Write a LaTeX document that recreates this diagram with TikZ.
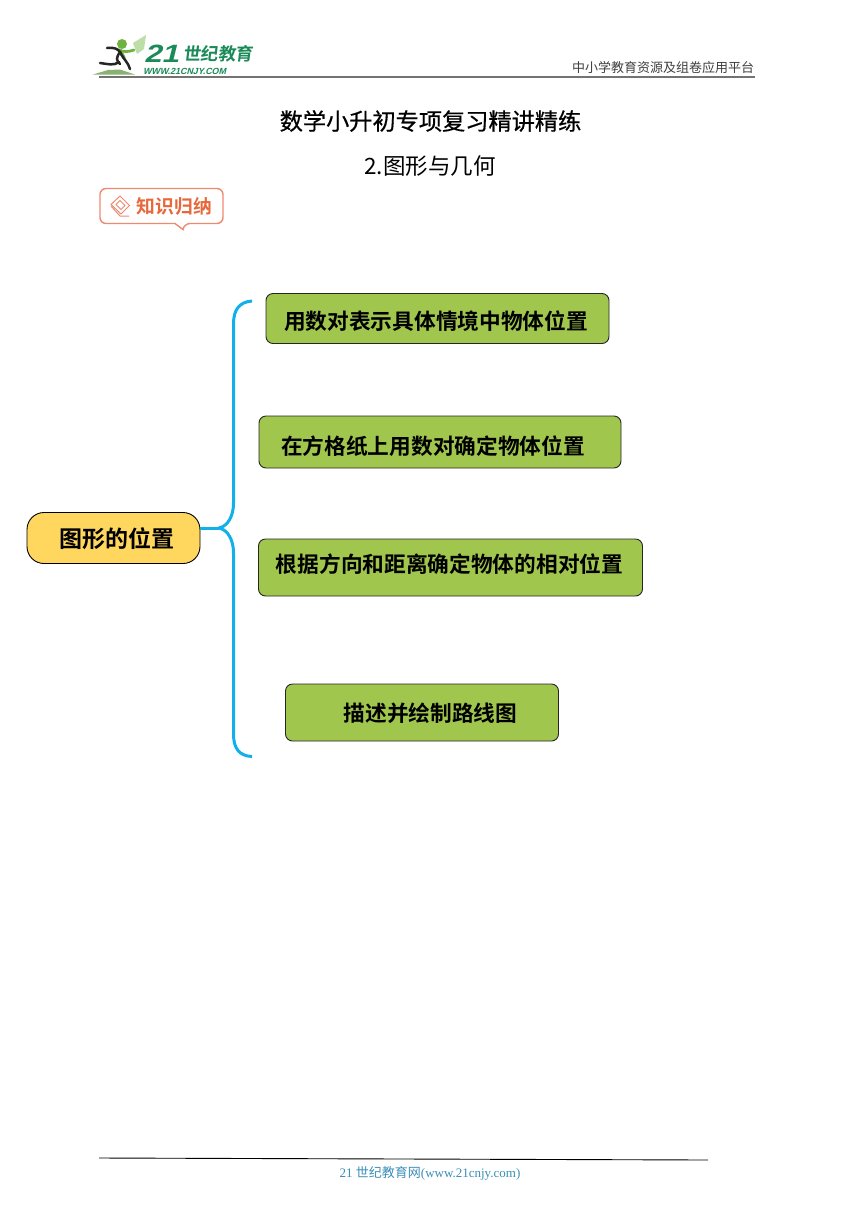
\documentclass[tikz,border=0pt]{standalone}
\usepackage{fontspec}
\setmainfont{Liberation Serif}
\newfontfamily\cjk{Noto Sans CJK SC}
\newfontfamily\cjkt[FakeBold=0.6]{Noto Sans CJK SC}
\newfontfamily\cjkb{Noto Sans CJK SC Bold}
\newfontfamily\cjkslant[FakeSlant=0.12]{Noto Sans CJK SC Bold}
\newfontfamily\sansslant[FakeSlant=0.25]{Liberation Sans Bold}
\newfontfamily\sansslantwide[FakeSlant=0.25,FakeStretch=1.25]{Liberation Sans Bold}
\definecolor{boxgreen}{HTML}{A1C64E}
\definecolor{rootyellow}{HTML}{FFD75F}
\definecolor{brace}{HTML}{12B0EA}
\definecolor{logogreen}{HTML}{1A8A58}
\definecolor{leaf}{HTML}{6DB33F}
\definecolor{badge}{HTML}{EE8A72}
\definecolor{badgetext}{HTML}{E8683C}
\definecolor{footblue}{HTML}{3A8FB7}
\tikzset{
  x=1pt,y=-1pt,
  topic/.style={draw=black!85,line width=0.9pt,fill=boxgreen,rounded corners=7pt,inner sep=0pt,
     font=\cjkb\fontsize{21.7}{22}\selectfont,text=black},
  rootbox/.style={draw=black,line width=0.9pt,fill=rootyellow,rounded corners=17pt,inner sep=0pt,
     font=\cjkb\fontsize{23}{23}\selectfont,text=black},
  tshift/.style={text height=20pt+#1,text depth=20pt-#1},
  bracestroke/.style={draw=brace,line width=3pt},
  rulegray/.style={draw=black!55,line width=1.6pt},
  plain/.style={inner sep=0pt,outer sep=0pt}
}
\begin{document}
\begin{tikzpicture}
\useasboundingbox[fill=white] (0,0) rectangle (860,1216);
% header
\coordinate (hl) at (99,77); \coordinate (hr) at (755,77);
\draw[rulegray] (hl) -- (hr);
\node[plain,anchor=east,font=\cjk\fontsize{13}{13}\selectfont,text=black!75] (plat) at (754,68) {中小学教育资源及组卷应用平台};
% logo
\fill[leaf!80!black!70] (93,74.5) -- (135,74.5) -- (120,69.5) -- (108,70) -- cycle;
\fill[leaf!45!white] (133,43) -- (146,35) -- (144,49) -- (137,54) -- cycle;
\fill[leaf] (122,44) circle (5);
\draw[leaf,line width=2.8pt,line cap=round] (118,50) .. controls (124,52) and (128,52) .. (134,50);
\draw[leaf,line width=3.5pt,line cap=round] (120,50) -- (124,58);
\draw[black!85,line width=2.5pt,line cap=round] (107,48) .. controls (114,47) and (118,49) .. (120,52) .. controls (116,58) and (116,60) .. (120,64);
\draw[black!85,line width=2.5pt,line cap=round] (120,52) .. controls (124,60) and (128,62) .. (130,69);
\draw[black!85,line width=2.5pt,line cap=round] (119,62) .. controls (114,66) and (108,64) .. (100,63);
\node[plain,anchor=west,font=\sansslantwide\fontsize{25}{25}\selectfont,text=logogreen] (l21) at (144,54) {21};
\node[plain,anchor=west,font=\cjkslant\fontsize{17.5}{18}\selectfont,text=logogreen] (lcn) at (183,54) {世纪教育};
\node[plain,anchor=west,font=\sansslant\fontsize{8.9}{9}\selectfont,text=logogreen] (lweb) at (143,71.5) {WWW.21CNJY.COM};
% titles
\node[plain,font=\cjkt\fontsize{23.2}{23}\selectfont] (t1) at (430.5,121) {数学小升初专项复习精讲精练};
\node[plain,font=\cjk\fontsize{22.5}{23}\selectfont] (t2) at (430,166) {2.图形与几何};
% badge
\draw[badge,line width=1.4pt,rounded corners=6pt,fill=white] (100,188.5) -- (223,188.5) -- (223,223.5) -- (184,223.5) [sharp corners]-- (183,229.5) -- (175,223.5) [rounded corners=6pt] -- (100,223.5) -- cycle;
\begin{scope}[badge,line width=1pt]
\draw (120,196) -- (129.5,205.5) -- (121,214) -- (111,204.5) -- cycle;
\draw (120,200.5) -- (125,205.5) -- (121,209.5) -- (116,204.5) -- cycle;
\draw (111,206) -- (120,216) -- (129,216);
\end{scope}
\node[plain,font=\cjkb\fontsize{18.8}{19}\selectfont,text=badgetext] (bt) at (174.5,206) {知识归纳};
% root and topics
\node[rootbox,tshift=9.5pt,minimum width=173pt,minimum height=51pt] (root) at (113.5,538) {\hspace*{6pt}图形的位置};
\node[topic,tshift=10.5pt,minimum width=343pt,minimum height=50pt] (a) at (437.5,318.5) {\hspace*{-3pt}用数对表示具体情境中物体位置};
\node[topic,tshift=12pt,minimum width=362pt,minimum height=52pt] (b) at (440,442) {\hspace*{-14pt}在方格纸上用数对确定物体位置};
\node[topic,tshift=5pt,minimum width=384pt,minimum height=57pt] (c) at (450.5,567.5) {\hspace*{-2pt}根据方向和距离确定物体的相对位置};
\node[topic,tshift=9pt,minimum width=273pt,minimum height=57pt] (d) at (422,712.5) {\hspace*{17pt}描述并绘制路线图};
% brace
\coordinate (bt1) at (252,301); \coordinate (bb1) at (252,756.5);
\coordinate (tip) at (219,528);
\draw[bracestroke] (root.east |- tip) -- (tip);
\draw[bracestroke] (bt1) .. controls (239,302) and (233.5,310) .. (233.5,324) -- (233.5,503) .. controls (233.5,516) and (228,526) .. (tip)
   .. controls (228,530) and (233.5,540) .. (233.5,553) -- (233.5,734) .. controls (233.5,748) and (239,756) .. (bb1);
% footer
\coordinate (fl) at (99,1158); \coordinate (fr) at (708,1160);
\draw[black,line width=0.9pt] (fl) -- (fr);
\node[plain,text=footblue] (foot) at (430,1173) {\fontsize{13}{13}\selectfont 21 {\cjk 世纪教育网}(www.21cnjy.com)};
\end{tikzpicture}
\end{document}
